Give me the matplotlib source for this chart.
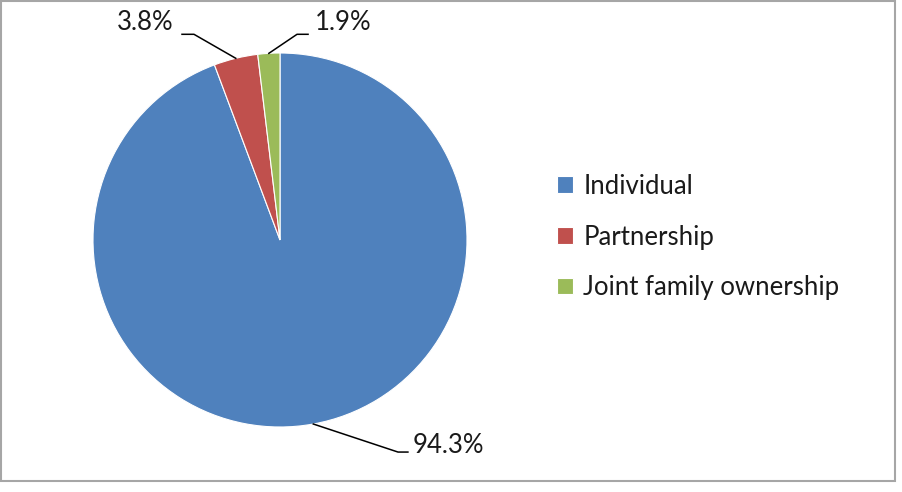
import matplotlib
matplotlib.use('Agg')
import matplotlib.pyplot as plt
from matplotlib.patches import Rectangle
import numpy as np

# ownership type shares (%)
labels = ['Individual', 'Partnership', 'Joint family ownership']
shares = [94.3, 3.8, 1.9]
colors = ['#4F81BD', '#C0504D', '#9BBB59']

plt.rcParams['font.family'] = ['Lato', 'DejaVu Sans']

W, H = 902, 492
fig = plt.figure(figsize=(W / 100, H / 100), dpi=100)

# pie: centre (280, 240) px, radius 187 px
cx, cy, r = 280, 240, 187
ax = fig.add_axes([(cx - r) / W, (H - cy - r) / H, 2 * r / W, 2 * r / H])
wedges, _ = ax.pie(shares, colors=colors, startangle=90, counterclock=False,
                   radius=1, wedgeprops=dict(edgecolor='white', linewidth=0.8))
ax.set_xlim(-1, 1)
ax.set_ylim(-1, 1)
ax.set_aspect('equal')
ax.axis('off')

# leader lines: wedge mid point -> elbow -> end, then text
# (elbow / end / text positions in data units, radius = 1)
elbows = [(0.631, -1.134), (-0.46, 1.10), (0.091, 1.10)]
ends = [(0.684, -1.134), (-0.524, 1.10), (0.150, 1.10)]
text_pos = [(0.708, -1.097), (-0.57, 1.163), (0.187, 1.163)]
aligns = ['left', 'right', 'left']
for w, v, el, en, tp, ha in zip(wedges, shares, elbows, ends, text_pos, aligns):
    mid = np.deg2rad((w.theta1 + w.theta2) / 2)
    px, py = np.cos(mid), np.sin(mid)
    ax.plot([px, el[0], en[0]], [py, el[1], en[1]], color='black', lw=1.1,
            clip_on=False)
    ax.text(tp[0], tp[1], f'{v:.1f}%', ha=ha, va='center', fontsize=18.5,
            color='#1a1a1a', clip_on=False)

leg = fig.legend(wedges, labels, loc='center left',
                 bbox_to_anchor=(557 / W, 1 - 237 / H), frameon=False,
                 fontsize=18.5, handlelength=0.62, handleheight=0.62,
                 handletextpad=0.4, labelspacing=1.0, borderpad=0,
                 borderaxespad=0)
for t in leg.get_texts():
    t.set_color('#1a1a1a')

# outer chart frame
fig.patches.append(Rectangle((1 / W, 11 / H), 894 / W, 480 / H,
                             transform=fig.transFigure, fill=False,
                             edgecolor='#a6a6a6', linewidth=1.5))

fig.savefig('out.png', dpi=100)
